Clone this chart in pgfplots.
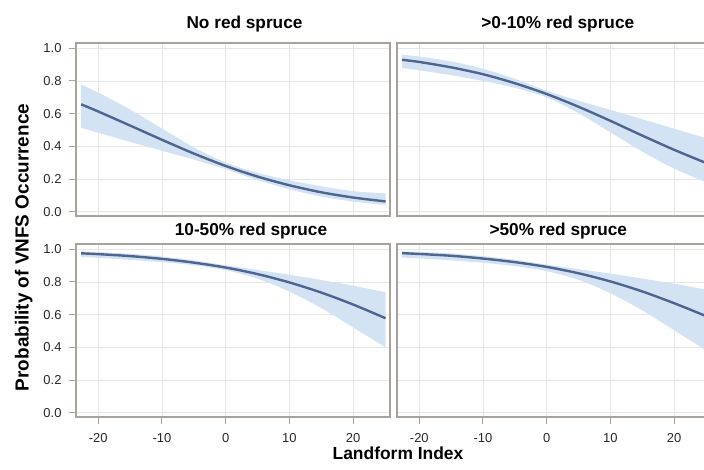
\documentclass[border=0pt]{standalone}
\usepackage{fontspec}
\setmainfont{Liberation Sans}
\usepackage{pgfplots}
\pgfplotsset{compat=1.18}
\usepgfplotslibrary{fillbetween}
\definecolor{linecol}{HTML}{4E6592}
\definecolor{bandcol}{HTML}{D4E3F3}
\definecolor{framecol}{HTML}{A8A29C}
\definecolor{gridcol}{HTML}{E6E6E6}
\definecolor{tickcol}{HTML}{262626}

\pgfplotsset{
  panel/.style={
    scale only axis, width=314bp, height=173bp, anchor=south west,
    xmin=-23.5, xmax=25.8, ymin=-0.026, ymax=1.032,
    xtick={-20,-10,...,20}, ytick={0,0.2,0.4,0.6,0.8,1.0},
    grid=major, major grid style={gridcol, line width=0.8bp},
    axis line style={framecol, line width=1.5bp},
    tick align=outside, major tick length=7bp,
    tick style={framecol, line width=1bp},
    /pgf/number format/assume math mode=true,
    tick label style={font=\fontsize{13}{15}\selectfont, text=tickcol},
    yticklabel style={xshift=-4bp, /pgf/number format/.cd, fixed, fixed zerofill, precision=1},
    xticklabel style={yshift=-6bp},
    xtick pos=bottom, ytick pos=left,
  },
  toprow/.style={xticklabels={}, xtick style={draw=none}},
  rightcol/.style={yticklabels={}, ytick style={draw=none}},
  mean/.style={linecol, line width=2.4bp, smooth},
  bnd/.style={draw=none, smooth, forget plot},
}

\begin{document}
\begin{tikzpicture}
% No red spruce
\begin{axis}[panel, toprow, at={(76bp,254bp)}]
\addplot[bnd, name path=u1] coordinates {(-22.7,0.777) (-20,0.729) (-15,0.625) (-10,0.509) (-5,0.394) (0,0.301) (5,0.238) (10,0.192) (15,0.156) (20,0.126) (25.1,0.112)};
\addplot[bnd, name path=l1] coordinates {(-22.7,0.513) (-20,0.483) (-15,0.427) (-10,0.373) (-5,0.319) (0,0.260) (5,0.194) (10,0.137) (15,0.093) (20,0.062) (25.1,0.042)};
\addplot[bandcol, forget plot] fill between[of=u1 and l1];
\addplot[mean] coordinates {(-22.7,0.657) (-20,0.613) (-15,0.527) (-10,0.440) (-5,0.356) (0,0.280) (5,0.215) (10,0.162) (15,0.119) (20,0.087) (25.1,0.063)};
\end{axis}

% >0-10% red spruce
\begin{axis}[panel, toprow, rightcol, at={(397bp,254bp)}]
\addplot[bnd, name path=u2] coordinates {(-22.7,0.960) (-20,0.949) (-15,0.919) (-10,0.875) (-5,0.813) (0,0.740) (5,0.679) (10,0.623) (15,0.566) (20,0.508) (25.1,0.449)};
\addplot[bnd, name path=l2] coordinates {(-22.7,0.879) (-20,0.865) (-15,0.835) (-10,0.800) (-5,0.758) (0,0.699) (5,0.603) (10,0.486) (15,0.368) (20,0.264) (25.1,0.179)};
\addplot[bandcol, forget plot] fill between[of=u2 and l2];
\addplot[mean] coordinates {(-22.7,0.929) (-20,0.916) (-15,0.883) (-10,0.841) (-5,0.786) (0,0.720) (5,0.642) (10,0.556) (15,0.466) (20,0.379) (25.1,0.297)};
\end{axis}

% 10-50% red spruce
\begin{axis}[panel, at={(76bp,53bp)}]
\addplot[bnd, name path=u3] coordinates {(-22.7,0.987) (-20,0.983) (-15,0.972) (-10,0.956) (-5,0.932) (0,0.902) (5,0.873) (10,0.844) (15,0.812) (20,0.777) (25.1,0.737)};
\addplot[bnd, name path=l3] coordinates {(-22.7,0.953) (-20,0.947) (-15,0.935) (-10,0.921) (-5,0.902) (0,0.872) (5,0.820) (10,0.741) (15,0.640) (20,0.522) (25.1,0.400)};
\addplot[bandcol, forget plot] fill between[of=u3 and l3];
\addplot[mean] coordinates {(-22.7,0.975) (-20,0.970) (-15,0.958) (-10,0.941) (-5,0.918) (0,0.888) (5,0.848) (10,0.797) (15,0.735) (20,0.662) (25.1,0.578)};
\end{axis}

% >50% red spruce
\begin{axis}[panel, rightcol, at={(397bp,53bp)}]
\addplot[bnd, name path=u4] coordinates {(-22.7,0.988) (-20,0.984) (-15,0.974) (-10,0.958) (-5,0.935) (0,0.906) (5,0.878) (10,0.851) (15,0.821) (20,0.789) (25.1,0.753)};
\addplot[bnd, name path=l4] coordinates {(-22.7,0.949) (-20,0.944) (-15,0.932) (-10,0.917) (-5,0.897) (0,0.866) (5,0.813) (10,0.731) (15,0.626) (20,0.505) (25.1,0.380)};
\addplot[bandcol, forget plot] fill between[of=u4 and l4];
\addplot[mean] coordinates {(-22.7,0.976) (-20,0.971) (-15,0.960) (-10,0.943) (-5,0.921) (0,0.892) (5,0.853) (10,0.803) (15,0.742) (20,0.670) (25.1,0.590)};
\end{axis}

% titles and labels
\begin{scope}[every node/.style={font=\bfseries\fontsize{17.3}{19}\selectfont, anchor=base}]
\node at (244.5bp,441.5bp) {No red spruce};
\node at (557.8bp,441.5bp) {>0-10\% red spruce};
\node at (251bp,234bp) {10-50\% red spruce};
\node at (558.3bp,234bp) {>50\% red spruce};
\node[font=\bfseries\fontsize{17.5}{19}\selectfont] at (398bp,10.7bp) {Landform Index};
\node[rotate=90, font=\bfseries\fontsize{19}{21}\selectfont] at (28.5bp,222.5bp) {Probability of VNFS Occurrence};
\end{scope}
\pgfresetboundingbox
\path[use as bounding box] (0,0) rectangle (704bp,470bp);
\end{tikzpicture}
\end{document}
